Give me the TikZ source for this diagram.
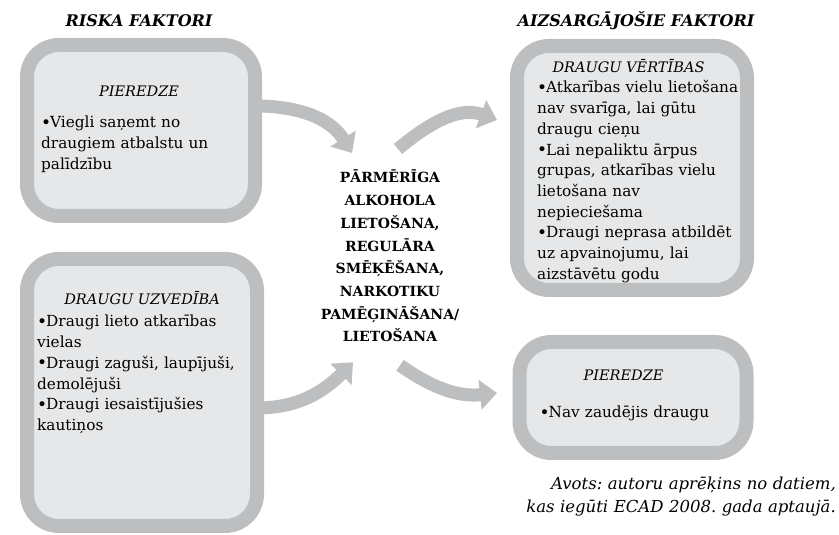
\documentclass[tikz,border=0pt]{standalone}
\usepackage{fontspec}
\setmainfont{DejaVu Serif}
\usetikzlibrary{arrows.meta}

\definecolor{framegray}{HTML}{BCBEC0}
\definecolor{fillgray}{HTML}{E6E7E8}

\frenchspacing

% One bullet point with a hanging indent.
\newcommand{\itm}[1]{%
    \hangindent=9pt\hangafter=1%
    \makebox[9pt][l]{\raisebox{-0.4pt}{\fontsize{17}{17}\selectfont\textbullet}}#1\par}

\begin{document}
\begin{tikzpicture}[%
        x = 1pt, y = 1pt,
        > = {Triangle[length = 17pt, width = 29pt]},
        frame/.style = {draw = framegray, fill = fillgray, line width = 14pt,
            rounded corners = 32pt, inner sep = 0pt, outer sep = 0pt},
        head/.style = {font = \fontsize{14.5}{17}\selectfont\itshape,
            anchor = base, inner sep = 0pt},
        items/.style = {font = \fontsize{15.3}{20.7}\selectfont,
            text width = 230pt, align = left, anchor = base west, inner sep = 0pt},
        title/.style = {font = \fontsize{16}{19}\selectfont\bfseries\itshape,
            anchor = base, inner sep = 0pt},
        flow/.style = {->, draw = framegray, line width = 13pt}
    ]

        \useasboundingbox (0, 0) rectangle (839, 535);

        % The four framed boxes.
        \node[frame, minimum width = 228pt, minimum height = 171pt] (riskexp) at (141, 404.5) {};
        \node[frame, minimum width = 230pt, minimum height = 267pt] (riskpeer) at (142, 142.5) {};
        \node[frame, minimum width = 230pt, minimum height = 244pt] (protval) at (632, 367) {};
        \node[frame, minimum width = 227pt, minimum height = 111pt] (protexp) at (633, 137.5) {};

        % Column titles.
        \node[title] (risktitle) at ([shift = {(-2pt, 18pt)}]riskexp.north) {RISKA FAKTORI};
        \node[title] (prottitle) at ([shift = {(4pt, 19pt)}]protval.north) {AIZSARGĀJOŠIE FAKTORI};

        % Headings inside the boxes.
        \node[head] (riskexph) at ([shift = {(-2pt, -52pt)}]riskexp.north) {PIEREDZE};
        \node[head] (riskpeerh) at ([shift = {(0pt, -46pt)}]riskpeer.north) {DRAUGU UZVEDĪBA};
        \node[head] (protvalh) at ([shift = {(-3.5pt, -27pt)}]protval.north) {DRAUGU VĒRTĪBAS};
        \node[head] (protexph) at ([shift = {(-9.5pt, -39pt)}]protexp.north) {PIEREDZE};

        % The bullet lists.
        \node[items] (riskexpl) at ([shift = {(14pt, -83pt)}]riskexp.north west) {%
            \itm{Viegli saņemt no\\draugiem atbalstu un\\palīdzību}};
        \node[items] (riskpeerl) at ([shift = {(10pt, -68pt)}]riskpeer.north west) {%
            \itm{Draugi lieto atkarības\\vielas}%
            \itm{Draugi zaguši, laupījuši,\\demolējuši}%
            \itm{Draugi iesaistījušies\\kautiņos}};
        \node[items] (protvall) at ([shift = {(20pt, -47pt)}]protval.north west) {%
            \itm{Atkarības vielu lietošana\\nav svarīga, lai gūtu\\draugu cieņu}%
            \itm{Lai nepaliktu ārpus\\grupas, atkarības vielu\\lietošana nav\\nepieciešama}%
            \itm{Draugi neprasa atbildēt\\uz apvainojumu, lai\\aizstāvētu godu}};
        \node[items] (protexpl) at ([shift = {(20pt, -76pt)}]protexp.north west) {%
            \itm{Nav zaudējis draugu}};

        % The behaviour in the middle.
        \node[font = \fontsize{14}{22.7}\selectfont\bfseries, text width = 160pt,
            align = center, anchor = base, inner sep = 0pt] (use) at (390, 352)
            {PĀRMĒRĪGA\\ALKOHOLA\\LIETOŠANA,\\REGULĀRA\\SMĒĶĒŠANA,\\NARKOTIKU\\PAMĒĢINĀŠANA/\\LIETOŠANA};

        % Free ends of the arrows next to the middle text.
        \coordinate (usein1) at ([shift = {(-38pt, 30pt)}]use.base);
        \coordinate (useout1) at ([shift = {(8pt, 34pt)}]use.base);
        \coordinate (usein2) at ([shift = {(-37pt, -20pt)}]use.south);
        \coordinate (useout2) at ([shift = {(10pt, -23pt)}]use.south);

        % Curved arrows.
        \draw[flow] ([yshift = 24.5pt]riskexp.east) to[out = 0, in = 122] (usein1);
        \draw[flow] ([yshift = -15.5pt]riskpeer.east) to[out = 0, in = -135] (usein2);
        \draw[flow] (useout1) to[out = 40, in = 160] ([shift = {(-20pt, 48pt)}]protval.west);
        \draw[flow] (useout2) to[out = -35, in = -174] ([shift = {(-22.5pt, 4.5pt)}]protexp.west);

        % Source note.
        \node[font = \fontsize{16.5}{23}\selectfont\itshape, text width = 330pt,
            align = right, anchor = base east, inner sep = 0pt] (source) at (836, 45)
            {Avots: autoru aprēķins no datiem,\\kas iegūti ECAD 2008. gada aptaujā.};
    \end{tikzpicture}
\end{document}
